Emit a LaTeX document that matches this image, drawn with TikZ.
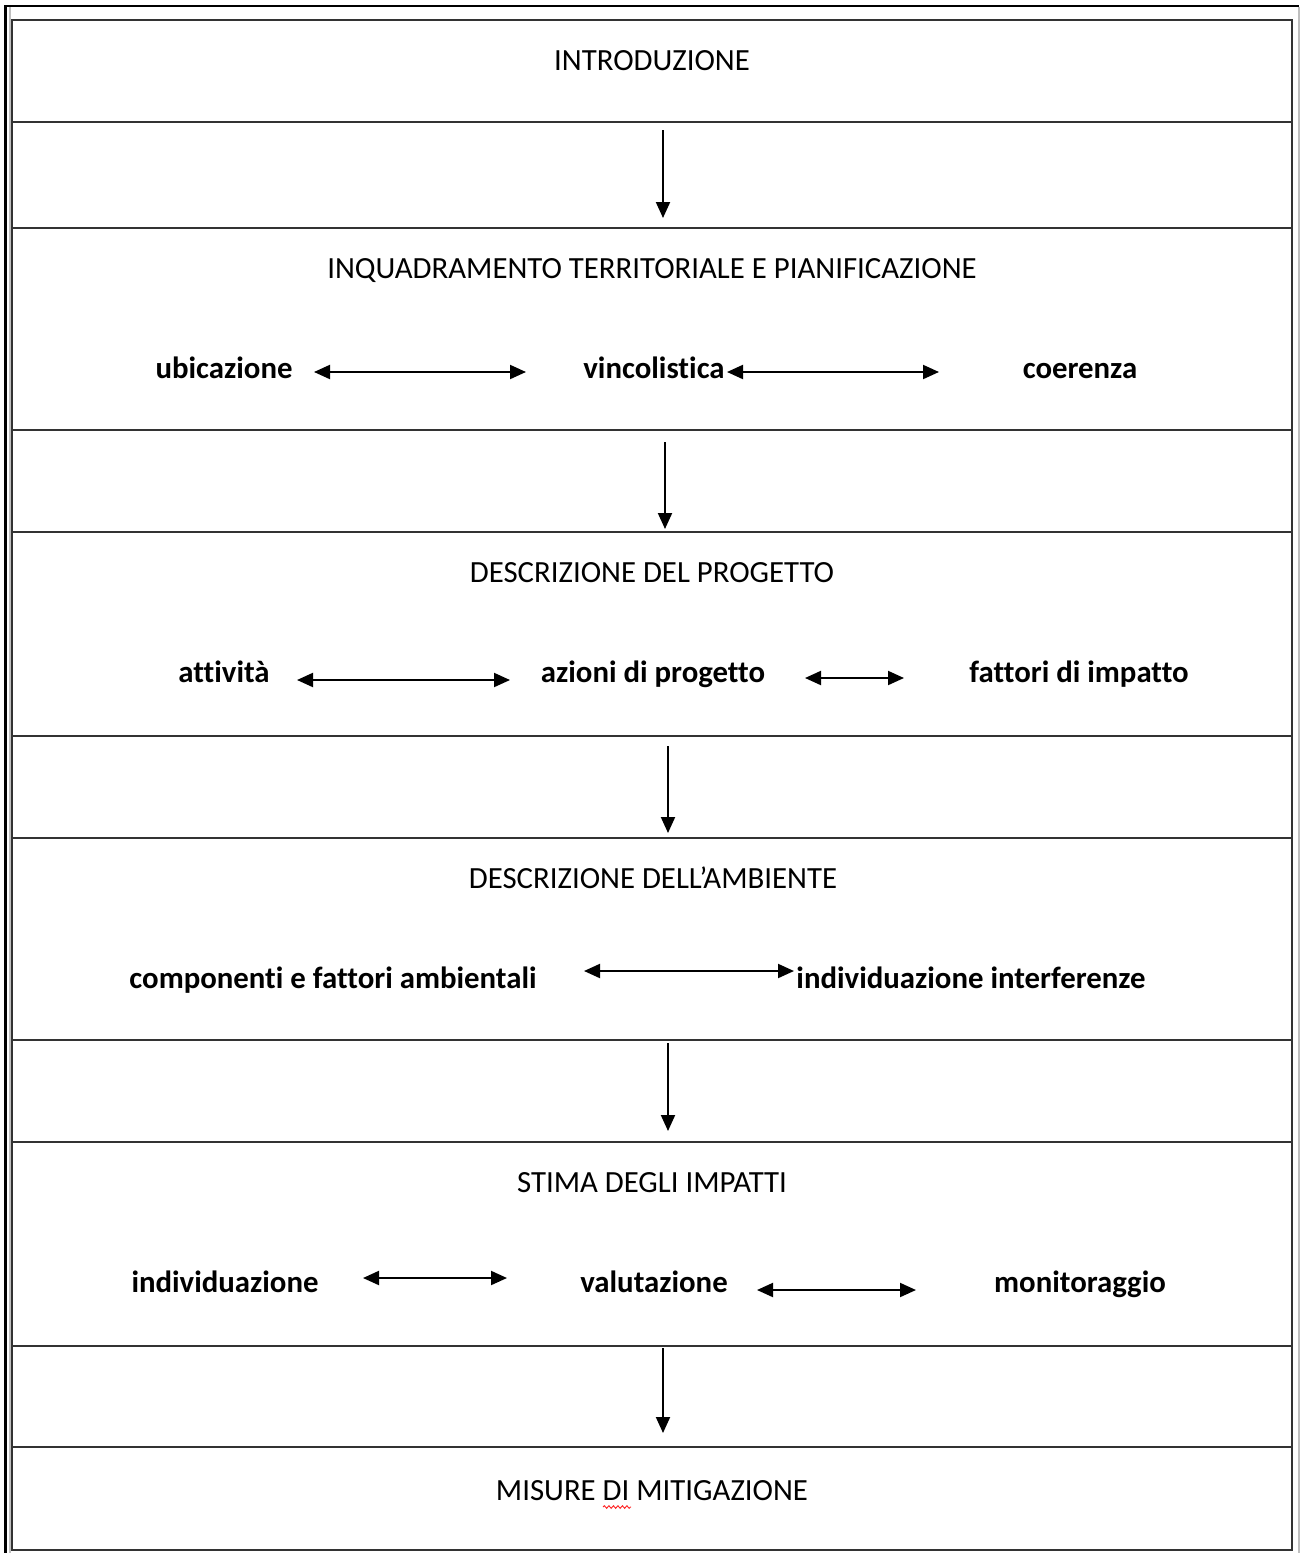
\documentclass[tikz,border=0pt]{standalone}
\usepackage{fontspec}
\setmainfont{Carlito}[Ligatures={NoCommon}]
\usetikzlibrary{arrows.meta,decorations.pathmorphing}
\begin{document}
\begin{tikzpicture}[x=1pt,y=-1pt,
  row/.style={draw=black!80,line width=2pt,minimum width=1280pt,inner sep=0pt,outer sep=0pt,anchor=north west},
  title/.style={font=\fontsize{30.8}{36}\selectfont,anchor=base,inner sep=0pt},
  item/.style={font=\bfseries\fontsize{30.8}{36}\selectfont,anchor=base,inner sep=0pt},
  flow/.style={-{Triangle[length=16pt,width=14pt]},line width=2pt},
  link/.style={{Triangle[length=16pt,width=14pt]}-{Triangle[length=16pt,width=14pt]},line width=2pt}]
\useasboundingbox (0,0) rectangle (1301,1553);
\fill[white] (0,0) rectangle (1301,1553);
% outer frame
\draw[line width=3pt] (5,1553) -- (5,6);
\draw[line width=2pt] (4,6) -- (1299,6);
\draw[black!25,line width=1.5pt] (10,7) -- (10,1553);
\draw[black!25,line width=1.5pt] (1299,7) -- (1299,1553);
% rows
\node[row,minimum height=102pt] (r1) at (12,20) {};
\node[row,minimum height=106pt] (r2) at (12,122) {};
\node[row,minimum height=202pt] (r3) at (12,228) {};
\node[row,minimum height=102pt] (r4) at (12,430) {};
\node[row,minimum height=204pt] (r5) at (12,532) {};
\node[row,minimum height=102pt] (r6) at (12,736) {};
\node[row,minimum height=202pt] (r7) at (12,838) {};
\node[row,minimum height=102pt] (r8) at (12,1040) {};
\node[row,minimum height=204pt] (r9) at (12,1142) {};
\node[row,minimum height=101pt] (r10) at (12,1346) {};
\node[row,minimum height=103pt] (r11) at (12,1447) {};
% titles
\node[title] (t1) at (652,70) {INTRODUZIONE};
\node[title] (t3) at (652,278) {INQUADRAMENTO TERRITORIALE E PIANIFICAZIONE};
\node[title] (t5) at (652,582) {DESCRIZIONE DEL PROGETTO};
\node[title] (t7) at (653,888) {DESCRIZIONE DELL’AMBIENTE};
\node[title] (t9) at (652,1192) {STIMA DEGLI IMPATTI};
\node[title] (t11) at (652,1500) {MISURE DI MITIGAZIONE};
% items
\node[item] (ubi) at (224,378) {ubicazione};
\node[item] (vin) at (654,378) {vincolistica};
\node[item] (coe) at (1080,378) {coerenza};
\node[item] (att) at (224,682) {attività};
\node[item] (azi) at (653,682) {azioni di progetto};
\node[item] (fat) at (1079,682) {fattori di impatto};
\node[item] (com) at (333,988) {componenti e fattori ambientali};
\node[item] (ind) at (971,988) {individuazione interferenze};
\node[item] (ide) at (225,1292) {individuazione};
\node[item] (val) at (654,1292) {valutazione};
\node[item] (mon) at (1080,1292) {monitoraggio};
% arrow end points
\coordinate (a1s) at (663,130); \coordinate (a1e) at (663,218);
\coordinate (a2s) at (665,442); \coordinate (a2e) at (665,529);
\coordinate (a3s) at (668,746); \coordinate (a3e) at (668,833);
\coordinate (a4s) at (668,1043); \coordinate (a4e) at (668,1131);
\coordinate (a5s) at (663,1348); \coordinate (a5e) at (663,1433);
\coordinate (b1s) at (314,372); \coordinate (b1e) at (526,372);
\coordinate (b2s) at (727,372); \coordinate (b2e) at (939,372);
\coordinate (b3s) at (297,680); \coordinate (b3e) at (510,680);
\coordinate (b4s) at (805,678); \coordinate (b4e) at (904,678);
\coordinate (b5s) at (584,971); \coordinate (b5e) at (794,971);
\coordinate (b6s) at (363,1278); \coordinate (b6e) at (507,1278);
\coordinate (b7s) at (757,1290); \coordinate (b7e) at (916,1290);
\draw[flow] (a1s) -- (a1e);
\draw[flow] (a2s) -- (a2e);
\draw[flow] (a3s) -- (a3e);
\draw[flow] (a4s) -- (a4e);
\draw[flow] (a5s) -- (a5e);
\draw[link] (b1s) -- (b1e);
\draw[link] (b2s) -- (b2e);
\draw[link] (b3s) -- (b3e);
\draw[link] (b4s) -- (b4e);
\draw[link] (b5s) -- (b5e);
\draw[link] (b6s) -- (b6e);
\draw[link] (b7s) -- (b7e);
% spell-check squiggle
\coordinate (sq1) at (603,1507); \coordinate (sq2) at (631,1507);
\draw[red!85,line width=0.9pt,decorate,decoration={snake,amplitude=1.3pt,segment length=4.5pt}] (sq1) -- (sq2);
\end{tikzpicture}
\end{document}
